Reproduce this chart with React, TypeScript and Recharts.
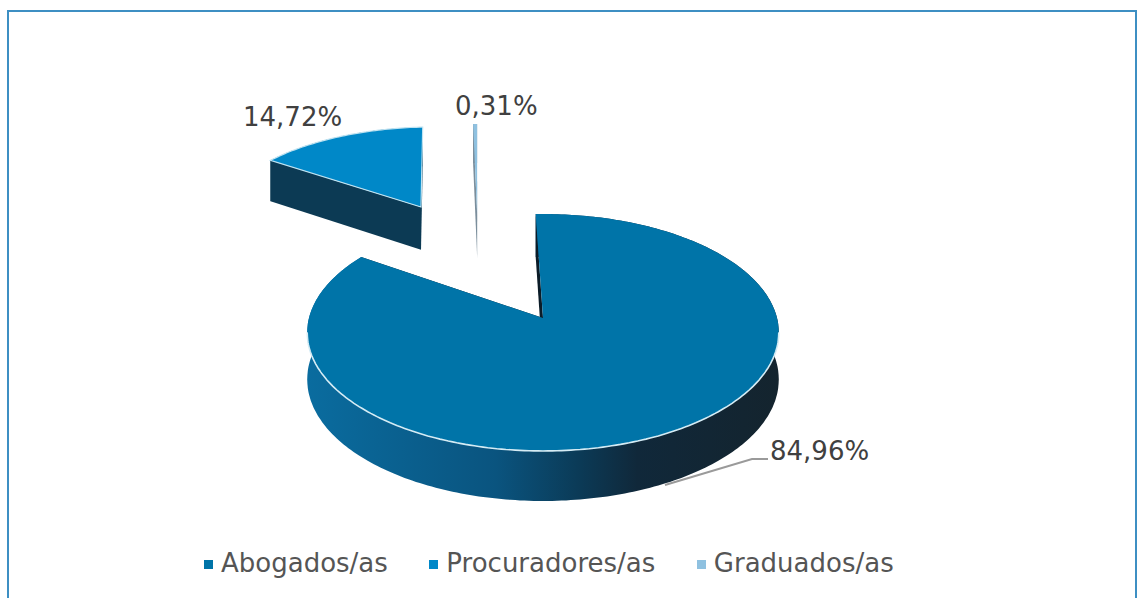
import { PieChart, Pie, Cell, Legend } from 'recharts'

const CATEGORIES = ['Abogados/as', 'Procuradores/as', 'Graduados/as']
const VALUES = [84.96, 14.72, 0.31]
const COLORS = ['#0074a8', '#0088c8', '#8fc1e0']

const chartData = CATEGORIES.map((name, i) => ({ name, value: VALUES[i] }))

// fake 3d: the disc is projected with a bit of perspective
const SQUASH = 0.4987
const PERSPECTIVE = 0.1224
const DEPTH = 46.5
const DEPTH_SLOPE = 3.5
const EXPLODE = [[0, 0], [-0.59, -1.077], [-0.315, -0.989]]
const SLICE_SCALE = [1, 0.97, 1.1]
const WALLS = ['url(#wallMain)', '#0c3a54', '#7b8e9c']
const LABEL_POS = [[770, 460], [243, 126], [455, 115]]

function Slice3D(props: any) {
  const { cx, cy, outerRadius: R, startAngle, endAngle, fill } = props
  const i = CATEGORIES.indexOf(props.name ?? props.payload?.name)
  const [du, dv] = EXPLODE[i]
  const scale = SLICE_SCALE[i]

  const project = (u: number, v: number, down: boolean) => {
    const w = 1 - PERSPECTIVE * v
    const y = cy + (R * SQUASH * v) / w
    return [cx + (R * u) / w, down ? y + DEPTH + DEPTH_SLOPE * v : y]
  }
  const toPath = (pts: number[][], close = false) =>
    pts.map((p, n) => `${n ? 'L' : 'M'}${p[0].toFixed(1)} ${p[1].toFixed(1)}`).join(' ') + (close ? ' Z' : '')

  const angles: number[] = []
  for (let a = startAngle; a > endAngle; a -= 1) angles.push(a)
  angles.push(endAngle)
  const disc = angles.map((a) => {
    const rad = (a * Math.PI) / 180
    return [du + scale * Math.cos(rad), dv - scale * Math.sin(rad)]
  })

  const top = disc.map(([u, v]) => project(u, v, false))
  const bottom = disc.map(([u, v]) => project(u, v, true))
  const apex = project(du, dv, false)
  const apexDown = project(du, dv, true)
  const front = disc
    .filter(([, v]) => v - dv > 0.12)
    .map(([u, v]) => project(u, v, false))

  const wall = WALLS[i]
  const edge = i === 0 ? '#0b1c28' : wall

  return (
    <g>
      <defs>
        <linearGradient id="wallMain" gradientUnits="userSpaceOnUse" x1={307} y1={0} x2={779} y2={0}>
          <stop offset="0" stopColor="#0a6c9f" />
          <stop offset="0.4" stopColor="#0a547f" />
          <stop offset="0.58" stopColor="#0b3a56" />
          <stop offset="0.7" stopColor="#10283a" />
          <stop offset="1" stopColor="#14242e" />
        </linearGradient>
      </defs>
      <path d={toPath([...top, ...[...bottom].reverse()], true)} fill={wall} />
      <path d={toPath([top[0], apex, apexDown, bottom[0]], true)} fill={edge} />
      <path d={toPath([top[top.length - 1], apex, apexDown, bottom[bottom.length - 1]], true)} fill={edge} />
      <path d={toPath([apex, ...top], true)} fill={fill} stroke={i === 1 ? '#bfe3f2' : 'none'} strokeWidth={1.2} />
      {i === 0 && front.length > 1 && (
        <path d={toPath(front)} fill="none" stroke="#d5ecf5" strokeWidth={1.6} />
      )}
    </g>
  )
}

function renderLabel(props: any) {
  const i = props.index
  const [x, y] = LABEL_POS[i]
  return (
    <g key={i}>
      {i === 0 && <polyline points="665,485 752,459 768,459" fill="none" stroke="#9a9a9a" strokeWidth={2} />}
      <text x={x} y={y} fill="#404040" fontSize={26} fontFamily="'DejaVu Sans'" textAnchor="start">
        {VALUES[i].toFixed(2).replace('.', ',') + '%'}
      </text>
    </g>
  )
}

export default function App() {
  return (
    <div style={{ position: 'absolute', left: 0, top: 0, width: 1141, height: 598, overflow: 'hidden', background: '#fff' }}>
      <div style={{ position: 'absolute', left: 7, top: 10, width: 1126, height: 600, border: '2px solid #3d8fc3' }} />
      <PieChart width={1141} height={598} margin={{ top: 0, right: 0, bottom: 0, left: 0 }}>
        <Pie
          data={chartData}
          dataKey="value"
          nameKey="name"
          cx={543}
          cy={318}
          outerRadius={234}
          startAngle={92}
          endAngle={-268}
          stroke="none"
          shape={Slice3D}
          label={renderLabel}
          labelLine={false}
          isAnimationActive={false}
        >
          {chartData.map((_, i) => (
            <Cell key={i} fill={COLORS[i]} />
          ))}
        </Pie>
        <Legend
          iconType="square"
          iconSize={9}
          align="left"
          verticalAlign="bottom"
          itemSorter={null}
          wrapperStyle={{ left: 204, top: 548, bottom: 'auto', width: 900, fontSize: 26, fontFamily: "'DejaVu Sans'", whiteSpace: 'nowrap' }}
          formatter={(value: string) => (
            <span style={{ color: '#555555', marginLeft: 4, marginRight: 31.5 }}>{value}</span>
          )}
        />
      </PieChart>
    </div>
  )
}
